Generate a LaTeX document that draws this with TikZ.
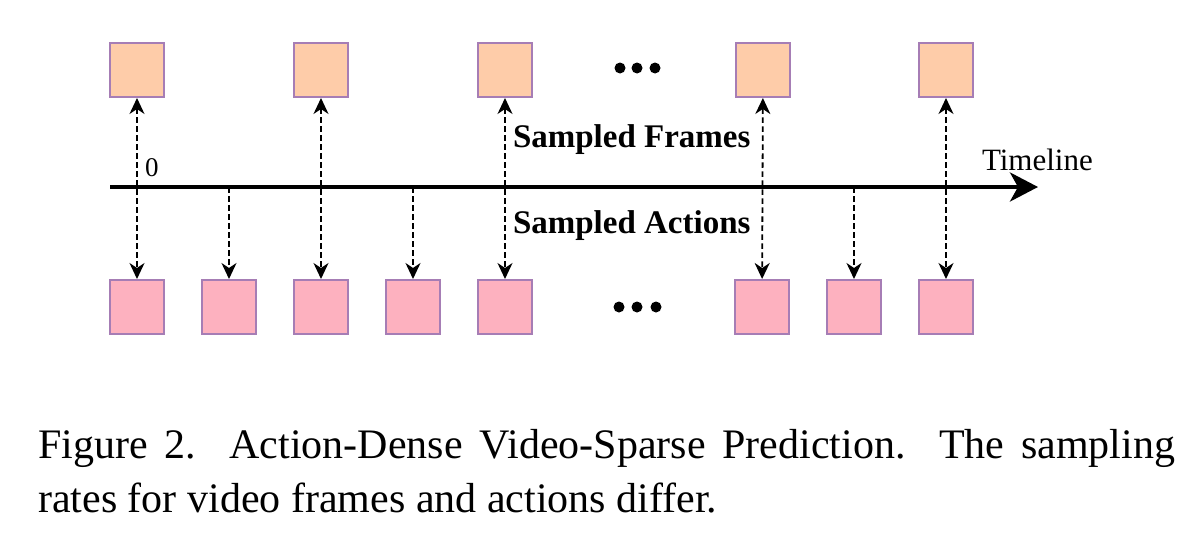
\documentclass[tikz,border=0pt]{standalone}
\usepackage{fontspec}
\setmainfont{Liberation Serif}
\usetikzlibrary{arrows.meta}
\definecolor{framefill}{HTML}{FECCA9}
\definecolor{actfill}{HTML}{FDB1BF}
\definecolor{boxedge}{HTML}{A67DB5}
\begin{document}
\begin{tikzpicture}[x=1pt,y=-1pt,
  framebox/.style={draw=boxedge, fill=framefill, line width=2pt, minimum size=54pt, inner sep=0pt},
  actbox/.style={draw=boxedge, fill=actfill, line width=2pt, minimum size=54pt, inner sep=0pt},
  dlink/.style={line width=1.8pt, dash pattern=on 5.5pt off 3.5pt,
    -{Stealth[length=16pt,width=15pt,inset=5pt]}},
  bilink/.style={dlink, {Stealth[length=16pt,width=15pt,inset=5pt]}-{Stealth[length=16pt,width=15pt,inset=5pt]}},
  timeaxis/.style={line width=4pt, -{Stealth[length=28pt,width=29pt,inset=8pt]}},
  txt/.style={anchor=base west, inner sep=0pt, outer sep=0pt},
  boldtxt/.style={txt, font=\fontsize{33}{36}\selectfont\bfseries}
]
\useasboundingbox (0,0) rectangle (1202,554);

% sampled video frames (sparse)
\foreach \n/\x in {1/137,2/321,3/505,4/763,5/946}
  \node[framebox] (f\n) at (\x,70) {};
% sampled actions (dense)
\foreach \n/\x in {1/137,2/229,3/321,4/413,5/505,6/762,7/854,8/946}
  \node[actbox] (a\n) at (\x,307) {};

% ellipses between the groups
\foreach \x in {620,637,655} \fill (\x,68) circle (5.5);
\foreach \x in {619,637,656} \fill (\x,307) circle (5.5);

% timeline
\coordinate (tl0) at (110,187);
\coordinate (tl1) at (1038,187);
\draw[timeaxis] (tl0) -- (tl1);
\coordinate (t2) at (229,187);
\coordinate (t4) at (413,187);
\coordinate (t7) at (854,187);

% frame <-> action links
\draw[bilink] (f1) -- (a1);
\draw[bilink] (f2) -- (a3);
\draw[bilink] (f3) -- (a5);
\draw[bilink] (f4) -- (a6);
\draw[bilink] (f5) -- (a8);
% action-only samples
\draw[dlink] (t2) -- (a2);
\draw[dlink] (t4) -- (a4);
\draw[dlink] (t7) -- (a7);

% labels
\node[txt, font=\fontsize{27}{30}\selectfont] (zero) at (145,176) {0};
\node[txt, font=\fontsize{31}{34}\selectfont] (tlname) at (982,170) {Timeline};
\node[boldtxt] (sframes) at (513,147) {Sampled Frames};
\node[boldtxt] (sactions) at (513,233) {Sampled Actions};

% caption
\node[anchor=base west, text width=1137pt, align=justify, inner sep=0pt,
  font=\fontsize{42}{54}\selectfont] (cap) at (38,458)
  {Figure 2. Action-Dense Video-Sparse Prediction. The sampling\linebreak rates for video frames and actions differ.};
\end{tikzpicture}
\end{document}
